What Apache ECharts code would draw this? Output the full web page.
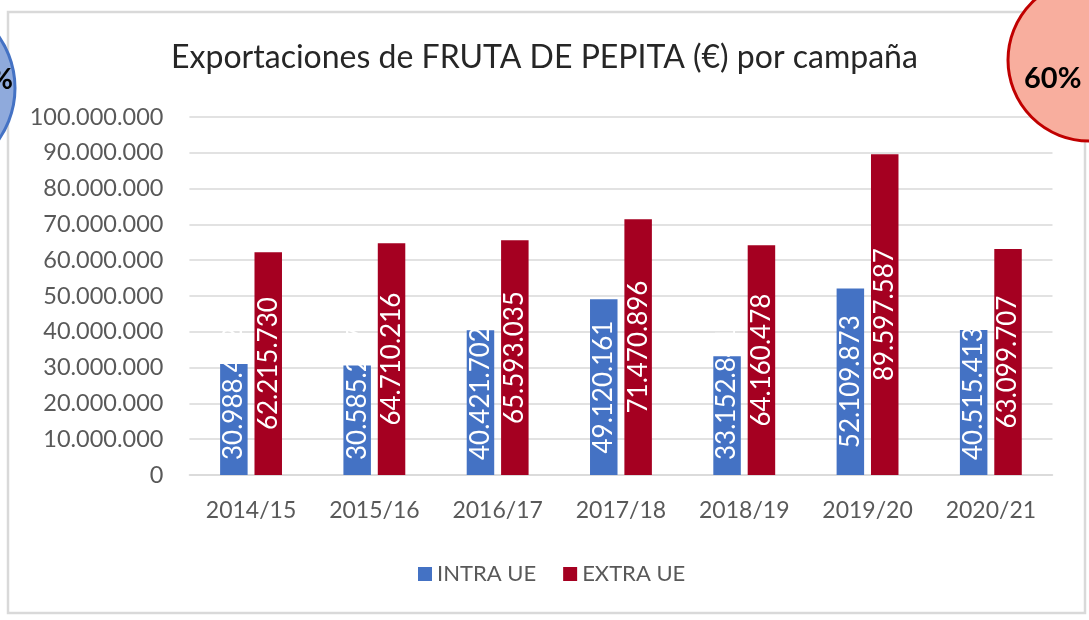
<!DOCTYPE html>
<html>
<head>
<meta charset="utf-8">
<script src="https://cdn.jsdelivr.net/npm/echarts@6/dist/echarts.min.js"></script>
<style>
  html, body { margin: 0; padding: 0; background: #fff; }
  #chart { width: 1089px; height: 620px; }
</style>
</head>
<body>
<div id="chart"></div>
<script>
// campaigns on the x axis
var campaigns = ["2014/15", "2015/16", "2016/17", "2017/18", "2018/19", "2019/20", "2020/21"];
// exports in euros
var intraUE = [30988412, 30585297, 40421702, 49120161, 33152841, 52109873, 40515413];
var extraUE = [62215730, 64710216, 65593035, 71470896, 64160478, 89597587, 63099707];
var seriesNames = ["INTRA UE", "EXTRA UE"];

var FONT = "Lato, 'Open Sans', sans-serif";
var BLUE = "#4472C4";
var RED = "#A50021";

function fmt(v) {
  return String(Math.round(v)).replace(/\B(?=(\d{3})+(?!\d))/g, ".");
}

var chart = echarts.init(document.getElementById("chart"));

var labelBase = {
  show: true,
  rotate: 90,
  color: "#fff",
  fontFamily: FONT,
  fontSize: 26,
  formatter: function (p) { return fmt(p.value); }
};

function barSeries(name, values, color) {
  return {
    name: name,
    type: "bar",
    barWidth: 27.5,
    barGap: "25%",
    itemStyle: { color: color },
    label: Object.assign({ position: "inside", align: "center", verticalAlign: "middle" }, labelBase),
    data: values.slice()
  };
}

chart.setOption({
  animation: false,
  title: {
    text: "Exportaciones de FRUTA DE PEPITA (€) por campaña",
    left: "center",
    top: 37,
    textStyle: { fontFamily: FONT, fontSize: 32, fontWeight: "normal", color: "#262626" }
  },
  legend: {
    data: seriesNames,
    left: 413,
    top: 558,
    icon: "rect",
    itemWidth: 14,
    itemHeight: 14,
    itemGap: 27,
    textStyle: { fontFamily: FONT, fontSize: 22, color: "#595959", padding: [0, 0, 0, 0] }
  },
  grid: { left: 189.4, right: 36.5, top: 117, bottom: 145, containLabel: false },
  xAxis: {
    type: "category",
    data: campaigns,
    axisTick: { show: false },
    axisLine: { lineStyle: { color: "#d9d9d9", width: 1.5 } },
    axisLabel: { fontFamily: FONT, fontSize: 23, color: "#595959", margin: 24 }
  },
  yAxis: {
    type: "value",
    min: 0,
    max: 100000000,
    interval: 10000000,
    axisLine: { show: false },
    axisTick: { show: false },
    splitLine: { lineStyle: { color: "#d9d9d9", width: 1.5 } },
    axisLabel: {
      fontFamily: FONT, fontSize: 23.5, color: "#595959", margin: 26,
      formatter: function (v) { return fmt(v); }
    }
  },
  graphic: [
    {
      type: "rect", z: -1,
      shape: { x: 8, y: 12, width: 1077, height: 601 },
      style: { fill: "none", stroke: "#d9d9d9", lineWidth: 2.5 }
    },
    {
      type: "circle", z: 100,
      shape: { cx: -75, cy: 88, r: 90 },
      style: { fill: "#8FAADC", stroke: BLUE, lineWidth: 3 }
    },
    {
      type: "text", z: 101,
      style: { x: 13, y: 80, text: "%", align: "right", verticalAlign: "middle",
        font: "bold 28px " + FONT, fill: "#000" }
    },
    {
      type: "circle", z: 100,
      shape: { cx: 1089, cy: 60, r: 81 },
      style: { fill: "#F8AE9E", stroke: "#C00000", lineWidth: 3 }
    },
    {
      type: "text", z: 101,
      style: { x: 1024, y: 79, text: "60%", align: "left", verticalAlign: "middle",
        font: "bold 29px " + FONT, fill: "#000" }
    }
  ],
  series: [
    barSeries(seriesNames[0], intraUE, BLUE),
    barSeries(seriesNames[1], extraUE, RED)
  ]
});

// short bars: label starts near the base instead of the bar middle
var textHalf = 70;
function buildData(values) {
  return values.map(function (v) {
    var h = chart.convertToPixel({ yAxisIndex: 0 }, 0) - chart.convertToPixel({ yAxisIndex: 0 }, v);
    if (h / 2 < textHalf + 15) {
      return {
        value: v,
        label: { position: "insideBottom", distance: 15, align: "left", verticalAlign: "middle" }
      };
    }
    return v;
  });
}
chart.setOption({
  series: [
    { name: seriesNames[0], data: buildData(intraUE) },
    { name: seriesNames[1], data: buildData(extraUE) }
  ]
});
</script>
</body>
</html>
